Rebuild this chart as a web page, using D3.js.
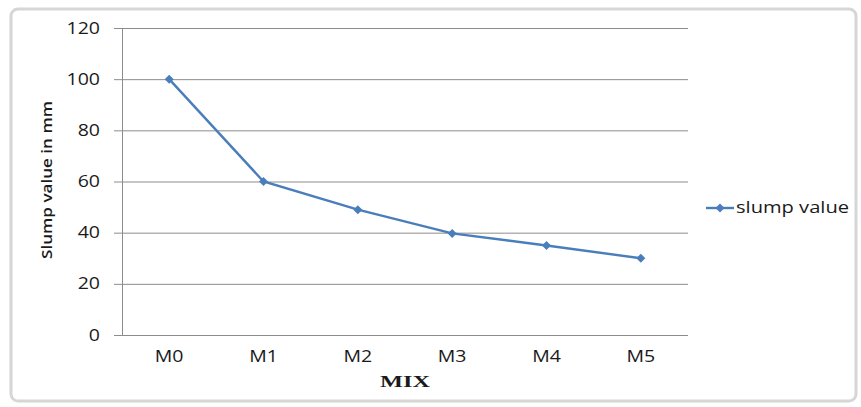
<!DOCTYPE html>
<html>
<head>
<meta charset="utf-8">
<script src="https://cdn.jsdelivr.net/npm/d3@7"></script>
<style>
  body { margin: 0; background: #fff; }
  svg { display: block; }
</style>
</head>
<body>
<script>
// chart data
var mixes = ["M0", "M1", "M2", "M3", "M4", "M5"];
var slumpValues = [100, 60, 49, 39.7, 35, 30];
var yTicks = [0, 20, 40, 60, 80, 100, 120];
var seriesName = "slump value";

var W = 861, H = 407;
var plot = {left: 122, right: 688, top: 28, bottom: 335};
var lineColor = "#4a7ebb", gridColor = "#8c8c8c";
var font = "'Open Sans', sans-serif";

var svg = d3.select("body").append("svg")
    .attr("width", W)
    .attr("height", H);

svg.append("rect").attr("width", W).attr("height", H).attr("fill", "#fff");

// outer chart frame
svg.append("rect")
    .attr("x", 11).attr("y", 9)
    .attr("width", 845).attr("height", 392)
    .attr("rx", 7)
    .attr("fill", "none")
    .attr("stroke", "#d6d6d6")
    .attr("stroke-width", 3);

// set the ranges
var x = d3.scaleBand().domain(mixes).range([plot.left, plot.right]);
var y = d3.scaleLinear().domain([0, 120]).range([plot.bottom, plot.top]);
var cx = function(d) { return x(d) + x.bandwidth() / 2; };

// gridlines
svg.append("g")
    .attr("transform", "translate(" + plot.left + ",0)")
    .call(d3.axisLeft(y).tickValues(yTicks).tickSize(-(plot.right - plot.left)).tickFormat(""))
    .call(function(g) {
        g.select(".domain").remove();
        g.selectAll("line").attr("stroke", gridColor);
    });

// y axis
var yAxis = svg.append("g")
    .attr("transform", "translate(" + plot.left + ",0)")
    .call(d3.axisLeft(y).tickValues(yTicks).tickSize(8).tickPadding(14).tickSizeOuter(0));
yAxis.select(".domain").attr("stroke", gridColor);
yAxis.selectAll("line").attr("stroke", gridColor);
yAxis.selectAll("text")
    .attr("font-family", font)
    .attr("font-size", "16px")
    .attr("font-weight", "500")
    .attr("fill", "#1a1a1a");

// x axis
var xAxis = svg.append("g")
    .attr("transform", "translate(0," + plot.bottom + ")")
    .call(d3.axisBottom(x).tickSize(0).tickPadding(16));
xAxis.select(".domain")
    .attr("stroke", gridColor)
    .attr("d", "M" + (plot.left - 8) + ",0.5H" + plot.right);
xAxis.selectAll("text")
    .attr("font-family", font)
    .attr("font-size", "16px")
    .attr("font-weight", "500")
    .attr("fill", "#1a1a1a");

// the line
var line = d3.line()
    .x(function(d, i) { return cx(mixes[i]); })
    .y(function(d) { return y(d); });

svg.append("path")
    .datum(slumpValues)
    .attr("d", line)
    .attr("fill", "none")
    .attr("stroke", lineColor)
    .attr("stroke-width", 2.4);

// square diamond marker
var diamond = "M0,-4.5L4.5,0L0,4.5L-4.5,0Z";
svg.selectAll(".pt")
    .data(slumpValues)
  .enter().append("path")
    .attr("class", "pt")
    .attr("d", diamond)
    .attr("transform", function(d, i) { return "translate(" + cx(mixes[i]) + "," + y(d) + ")"; })
    .attr("fill", lineColor);

// axis titles
svg.append("text")
    .attr("transform", "translate(52,180) rotate(-90)")
    .attr("text-anchor", "middle")
    .attr("font-family", font)
    .attr("font-size", "15px")
    .attr("font-weight", "600")
    .attr("fill", "#1a1a1a")
    .attr("textLength", 158)
    .attr("lengthAdjust", "spacingAndGlyphs")
    .text("Slump value in mm");

svg.append("text")
    .attr("x", 405)
    .attr("y", 387)
    .attr("text-anchor", "middle")
    .attr("font-family", "'Liberation Serif', 'Times New Roman', serif")
    .attr("font-size", "16px")
    .attr("font-weight", "bold")
    .attr("fill", "#1a1a1a")
    .attr("textLength", 50)
    .attr("lengthAdjust", "spacingAndGlyphs")
    .text("MIX");

// legend
var legend = svg.append("g").attr("transform", "translate(706,208)");
legend.append("line")
    .attr("x1", 0).attr("x2", 28)
    .attr("stroke", lineColor)
    .attr("stroke-width", 2.4);
legend.append("path")
    .attr("d", diamond)
    .attr("transform", "translate(14,0)")
    .attr("fill", lineColor);
legend.append("text")
    .attr("x", 30)
    .attr("y", 5)
    .attr("font-family", font)
    .attr("font-size", "16px")
    .attr("font-weight", "500")
    .attr("fill", "#1a1a1a")
    .attr("textLength", 113)
    .attr("lengthAdjust", "spacingAndGlyphs")
    .text(seriesName);

// widen the tick text to match the stretched reference
svg.selectAll(".tick text").each(function() {
    var t = d3.select(this);
    var len = this.getComputedTextLength();
    if (!len) return;
    t.attr("textLength", len * 1.22).attr("lengthAdjust", "spacingAndGlyphs");
});
</script>
</body>
</html>
